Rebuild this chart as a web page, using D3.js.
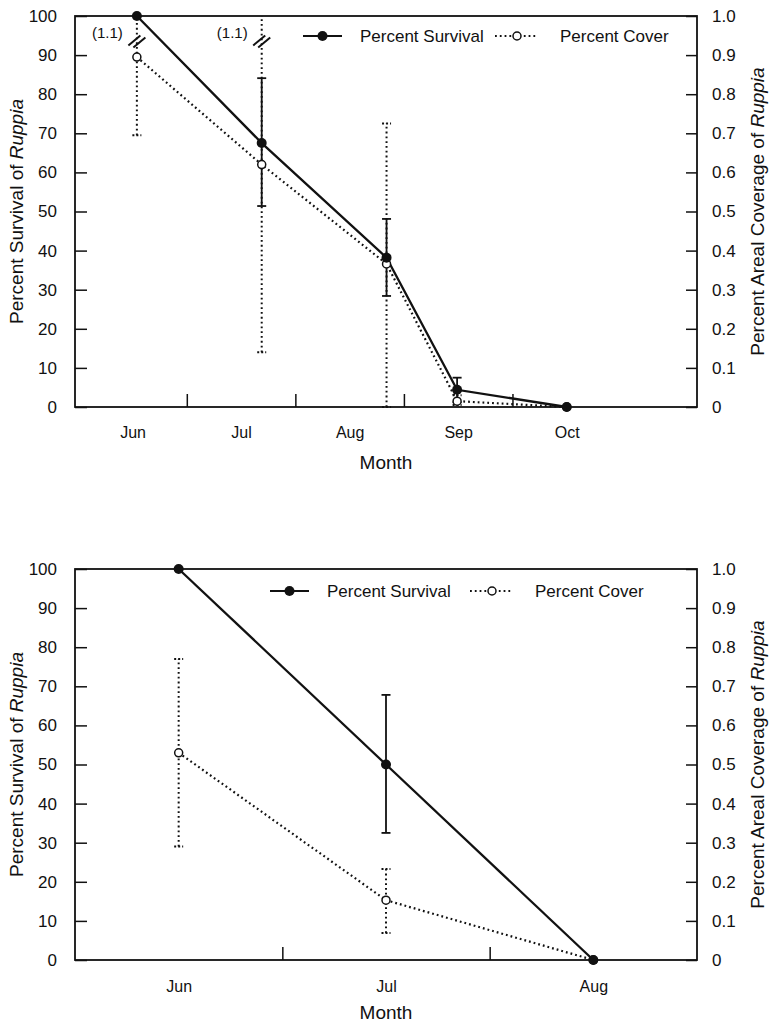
<!DOCTYPE html>
<html>
<head>
<meta charset="utf-8" />
<title>Ruppia survival and cover</title>
<script src="https://cdn.jsdelivr.net/npm/d3@7"></script>
<style>
  body { margin: 0; background: #fff; }
  text { font-family: "Liberation Sans", Arial, Helvetica, sans-serif; fill: #111; }
</style>
</head>
<body>
<script>

// upper panel: sampling position in month units (0 = start of June)
var topMonths = ["Jun", "Jul", "Aug", "Sep", "Oct"];
var topX = [0.54, 1.69, 2.84, 3.49, 4.5];
var topSurvival = [100, 67.5, 38.2, 4.4, 0];
var topSurvivalLo = [null, 51.4, 28.4, 1.2, null];
var topSurvivalHi = [null, 84.1, 48.1, 7.5, null];
var topCover = [0.895, 0.62, 0.366, 0.015, 0];
var topCoverLo = [0.695, 0.14, 0, 0.005, null];
var topCoverHi = [1.1, 1.1, 0.725, 0.03, null];

// lower panel
var botMonths = ["Jun", "Jul", "Aug"];
var botX = [0.5, 1.5, 2.5];
var botSurvival = [100, 50, 0];
var botSurvivalLo = [null, 32.5, null];
var botSurvivalHi = [null, 67.8, null];
var botCover = [0.53, 0.153, 0];
var botCoverLo = [0.29, 0.069, null];
var botCoverHi = [0.77, 0.233, null];

var leftTicks = [0, 10, 20, 30, 40, 50, 60, 70, 80, 90, 100];
var rightTicks = [0, 0.1, 0.2, 0.3, 0.4, 0.5, 0.6, 0.7, 0.8, 0.9, 1.0];
var rightLabels = ["0", "0.1", "0.2", "0.3", "0.4", "0.5", "0.6", "0.7", "0.8", "0.9", "1.0"];

var width = 776, height = 1025;
var svg = d3.select('body').append('svg').attr('width', width).attr('height', height);

var dotted = "1.8,3";

function panel(cfg) {
    var left = 75, right = 697;
    var x = d3.scaleLinear().domain(cfg.xDomain).range([left, right]);
    var yL = d3.scaleLinear().domain([0, 100]).range([cfg.bottom, cfg.top]);
    var yR = d3.scaleLinear().domain([0, 1]).range([cfg.bottom, cfg.top]);
    var g = svg.append('g');

    // frame
    g.append('rect').attr('x', left).attr('y', cfg.top)
        .attr('width', right - left).attr('height', cfg.bottom - cfg.top)
        .attr('fill', 'none').attr('stroke', '#111').attr('stroke-width', 1.8);

    // left axis, ticks pointing in
    var la = g.append('g').attr('transform', 'translate(' + left + ',0)')
        .call(d3.axisLeft(yL).tickValues(leftTicks).tickSizeInner(-12).tickSizeOuter(0).tickPadding(18));
    // right axis
    var ra = g.append('g').attr('transform', 'translate(' + right + ',0)')
        .call(d3.axisRight(yR).tickValues(rightTicks).tickSizeInner(-11).tickSizeOuter(0).tickPadding(15)
            .tickFormat(function (d, i) { return rightLabels[i]; }));
    // x tick marks at month boundaries
    var bounds = d3.range(1, cfg.months.length);
    var xa = g.append('g').attr('transform', 'translate(0,' + cfg.bottom + ')')
        .call(d3.axisBottom(x).tickValues(bounds).tickSizeInner(-13).tickSizeOuter(0).tickFormat(''));
    // month labels at month centres
    var xl = g.append('g').attr('transform', 'translate(0,' + cfg.bottom + ')')
        .call(d3.axisBottom(x).tickValues(cfg.months.map(function (d, i) { return i + 0.5; }))
            .tickSize(0).tickPadding(cfg.labelPad).tickFormat(function (d, i) { return cfg.months[i]; }));

    [la, ra, xa, xl].forEach(function (a) {
        a.select('.domain').remove();
        a.selectAll('line').attr('stroke', '#111').attr('stroke-width', 1.5);
        a.selectAll('text').style('font-size', '17px').attr('fill', '#111')
            .style('font-family', '"Liberation Sans", Arial, sans-serif');
    });
    xl.selectAll('text').style('font-size', '16px');

    // axis titles
    g.append('text').attr('x', (left + right) / 2).attr('y', cfg.bottom + cfg.titlePad)
        .attr('text-anchor', 'middle').style('font-size', '19px').text('Month');

    var lt = g.append('text').attr('transform', 'translate(23,' + (cfg.top + cfg.bottom) / 2 + ') rotate(-90)')
        .attr('text-anchor', 'middle').style('font-size', '19px');
    lt.append('tspan').text('Percent Survival of ');
    lt.append('tspan').style('font-style', 'italic').text('Ruppia');

    var rt = g.append('text').attr('transform', 'translate(764,' + (cfg.top + cfg.bottom) / 2 + ') rotate(-90)')
        .attr('text-anchor', 'middle').style('font-size', '19px');
    rt.append('tspan').text('Percent Areal Coverage of ');
    rt.append('tspan').style('font-style', 'italic').text('Ruppia');

    // cover error bars (dotted)
    cfg.xs.forEach(function (xv, i) {
        if (cfg.coverLo[i] === null) return;
        var hi = Math.min(cfg.coverHi[i], 1);
        var px = x(xv);
        g.append('line').attr('x1', px).attr('x2', px)
            .attr('y1', yR(cfg.coverLo[i])).attr('y2', yR(hi))
            .attr('stroke', '#111').attr('stroke-width', 2).attr('stroke-dasharray', dotted);
        g.append('line').attr('x1', px - 4.5).attr('x2', px + 4.5)
            .attr('y1', yR(cfg.coverLo[i])).attr('y2', yR(cfg.coverLo[i]))
            .attr('stroke', '#111').attr('stroke-width', 2).attr('stroke-dasharray', '2,2');
        if (cfg.coverHi[i] > 1) {
            // broken bar marker with the off-scale value
            var by = yR(0.935);
            [-2.5, 2.5].forEach(function (o) {
                g.append('line').attr('x1', px - 6 + o).attr('y1', by + 5 + o * 0.4)
                    .attr('x2', px + 6 + o).attr('y2', by - 5 + o * 0.4)
                    .attr('stroke', '#111').attr('stroke-width', 2);
            });
            g.append('text').attr('x', px - 14).attr('y', yR(0.944))
                .attr('text-anchor', 'end').style('font-size', '15px')
                .text('(' + cfg.coverHi[i].toFixed(1) + ')');
        } else {
            g.append('line').attr('x1', px - 4.5).attr('x2', px + 4.5)
                .attr('y1', yR(hi)).attr('y2', yR(hi))
                .attr('stroke', '#111').attr('stroke-width', 2).attr('stroke-dasharray', '2,2');
        }
    });

    // survival error bars (solid)
    cfg.xs.forEach(function (xv, i) {
        if (cfg.survLo[i] === null) return;
        var px = x(xv);
        g.append('line').attr('x1', px).attr('x2', px)
            .attr('y1', yL(cfg.survLo[i])).attr('y2', yL(cfg.survHi[i]))
            .attr('stroke', '#111').attr('stroke-width', 1.8);
        [cfg.survLo[i], cfg.survHi[i]].forEach(function (v) {
            g.append('line').attr('x1', px - 4.5).attr('x2', px + 4.5)
                .attr('y1', yL(v)).attr('y2', yL(v))
                .attr('stroke', '#111').attr('stroke-width', 1.8);
        });
    });

    // lines
    var coverLine = d3.line().x(function (d, i) { return x(cfg.xs[i]); }).y(function (d) { return yR(d); });
    var survLine = d3.line().x(function (d, i) { return x(cfg.xs[i]); }).y(function (d) { return yL(d); });
    g.append('path').datum(cfg.cover).attr('d', coverLine).attr('fill', 'none')
        .attr('stroke', '#111').attr('stroke-width', 2.2).attr('stroke-dasharray', dotted);
    g.append('path').datum(cfg.surv).attr('d', survLine).attr('fill', 'none')
        .attr('stroke', '#111').attr('stroke-width', 2.3);

    g.selectAll('.cov').data(cfg.cover).enter().append('circle')
        .attr('cx', function (d, i) { return x(cfg.xs[i]); }).attr('cy', function (d) { return yR(d); })
        .attr('r', 4).attr('fill', '#fff').attr('stroke', '#111').attr('stroke-width', 1.5);
    g.selectAll('.sur').data(cfg.surv).enter().append('circle')
        .attr('cx', function (d, i) { return x(cfg.xs[i]); }).attr('cy', function (d) { return yL(d); })
        .attr('r', 5).attr('fill', '#111');

    // legend
    var L = cfg.legend, ly = L.y;
    g.append('line').attr('x1', L.x).attr('x2', L.x + 39).attr('y1', ly).attr('y2', ly)
        .attr('stroke', '#111').attr('stroke-width', 2);
    g.append('circle').attr('cx', L.x + 19.5).attr('cy', ly).attr('r', 5).attr('fill', '#111');
    g.append('text').attr('x', L.x + 57).attr('y', ly + 6).style('font-size', '17px').text('Percent Survival');
    var cx0 = L.x + L.gap;
    g.append('line').attr('x1', cx0).attr('x2', cx0 + 43).attr('y1', ly).attr('y2', ly)
        .attr('stroke', '#111').attr('stroke-width', 2).attr('stroke-dasharray', dotted);
    g.append('circle').attr('cx', cx0 + 22).attr('cy', ly).attr('r', 4)
        .attr('fill', '#fff').attr('stroke', '#111').attr('stroke-width', 1.5);
    g.append('text').attr('x', cx0 + 65).attr('y', ly + 6).style('font-size', '17px').text('Percent Cover');
}

panel({
    top: 16, bottom: 407, xDomain: [-0.03, 5.7], months: topMonths, labelPad: 20, titlePad: 62,
    xs: topX, surv: topSurvival, survLo: topSurvivalLo, survHi: topSurvivalHi,
    cover: topCover, coverLo: topCoverLo, coverHi: topCoverHi,
    legend: { x: 303, y: 36, gap: 192 }
});

panel({
    top: 569, bottom: 960, xDomain: [0, 3], months: botMonths, labelPad: 21, titlePad: 59,
    xs: botX, surv: botSurvival, survLo: botSurvivalLo, survHi: botSurvivalHi,
    cover: botCover, coverLo: botCoverLo, coverHi: botCoverHi,
    legend: { x: 270, y: 591, gap: 200 }
});

</script>
</body>
</html>
